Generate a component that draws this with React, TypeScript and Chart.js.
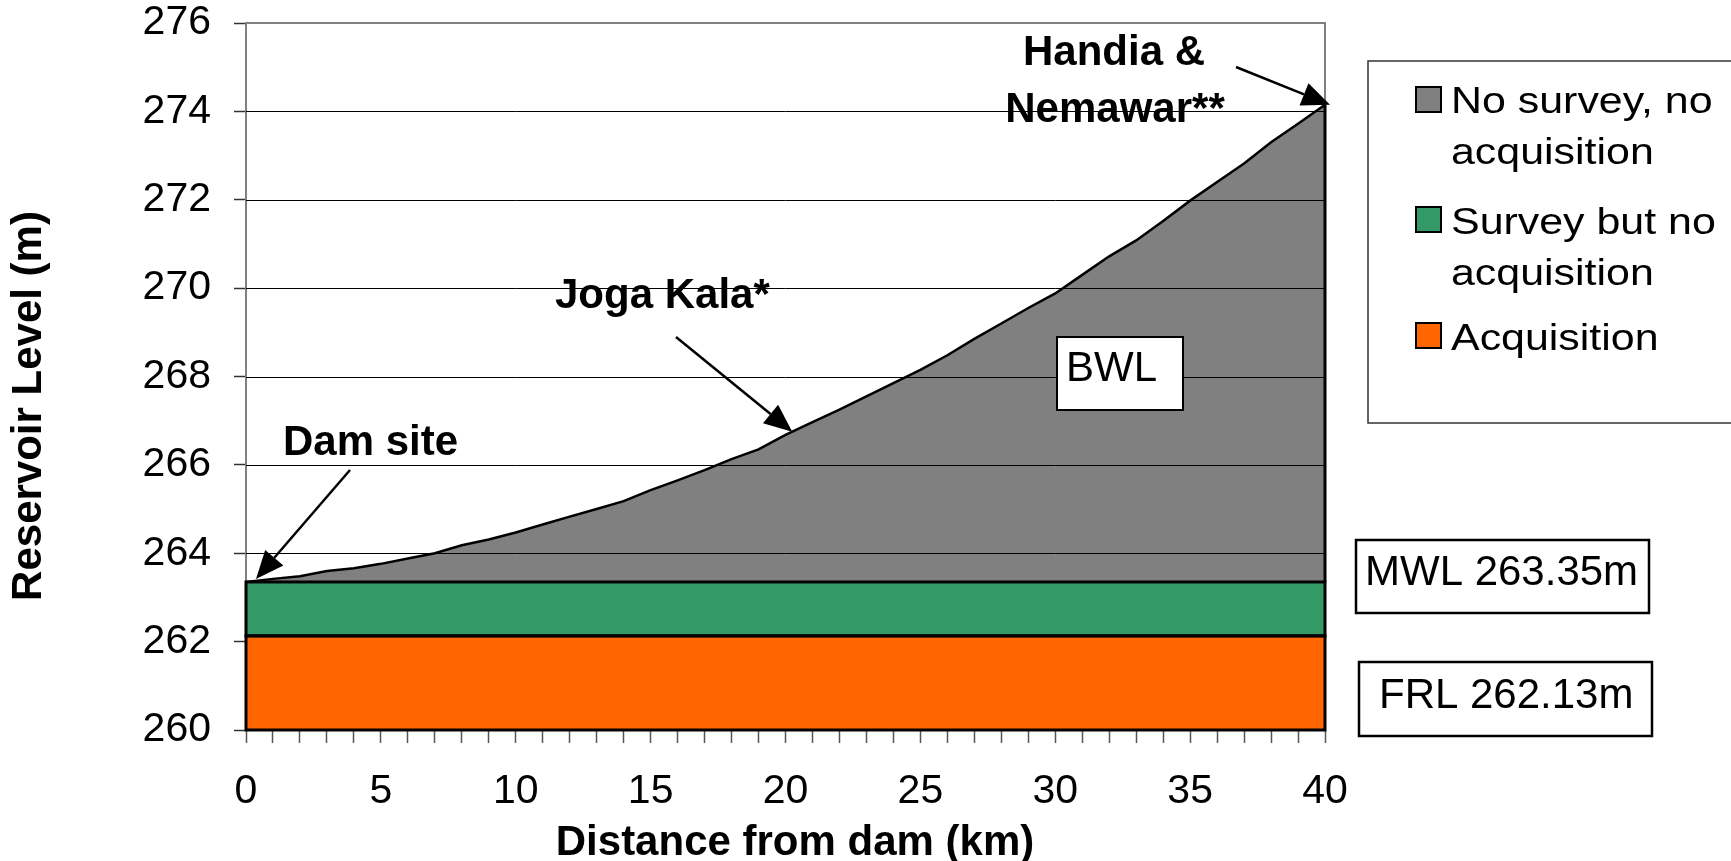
import React, { useEffect, useRef } from "react";
import { Chart, registerables } from "chart.js";

Chart.register(...registerables);

// ---------- data ----------
const distanceKm = [
  0, 1, 2, 3, 4, 5, 6, 7, 8, 9, 10, 11, 12, 13, 14, 15, 16, 17, 18, 19, 20,
  21, 22, 23, 24, 25, 26, 27, 28, 29, 30, 31, 32, 33, 34, 35, 36, 37, 38, 39, 40,
];
const bwlLevel = [
  263.35, 263.42, 263.48, 263.6, 263.66, 263.76, 263.88, 264.0, 264.18, 264.31,
  264.47, 264.65, 264.83, 265.0, 265.18, 265.43, 265.65, 265.88, 266.13, 266.35,
  266.68, 266.97, 267.25, 267.55, 267.85, 268.15, 268.48, 268.85, 269.2, 269.55,
  269.88, 270.3, 270.72, 271.08, 271.52, 271.98, 272.4, 272.82, 273.3, 273.72,
  274.15,
];
const frlLevel = 262.13;
const mwlLevel = 263.35;
const bandEdgesKm = [0, 40];
const yRange = [260, 276];
const yStep = 2;
const xRange = [0, 40];
const xLabelEvery = 5;

const seriesLabels = [
  ["No survey, no", "acquisition"],
  ["Survey but no", "acquisition"],
  ["Acquisition"],
];
const seriesColors = ["#808080", "#339966", "#FF6600"];

const xTitle = "Distance from dam (km)";
const yTitle = "Reservoir Level (m)";
const placeNames = ["Dam site", "Joga Kala*", "Handia &", "Nemawar**"];
const placeKm = [0, 20.25, 40];
const placeLevel = [263.35, 266.75, 274.15];

const FONT = "'Liberation Sans', Arial, Helvetica, sans-serif";

function drawArrow(ctx: CanvasRenderingContext2D, x1: number, y1: number, x2: number, y2: number) {
  const len = 28;
  const hw = 12;
  const ang = Math.atan2(y2 - y1, x2 - x1);
  const bx = x2 - len * Math.cos(ang);
  const by = y2 - len * Math.sin(ang);
  ctx.save();
  ctx.strokeStyle = "#000";
  ctx.fillStyle = "#000";
  ctx.lineWidth = 2.5;
  ctx.beginPath();
  ctx.moveTo(x1, y1);
  ctx.lineTo(bx, by);
  ctx.stroke();
  ctx.beginPath();
  ctx.moveTo(x2, y2);
  ctx.lineTo(bx + hw * Math.sin(ang), by - hw * Math.cos(ang));
  ctx.lineTo(bx - hw * Math.sin(ang), by + hw * Math.cos(ang));
  ctx.closePath();
  ctx.fill();
  ctx.restore();
}

function drawText(
  ctx: CanvasRenderingContext2D,
  text: string,
  x: number,
  y: number,
  font: string,
  align: CanvasTextAlign = "left",
  sx = 1
) {
  ctx.save();
  ctx.font = font;
  ctx.fillStyle = "#000";
  ctx.textAlign = align;
  ctx.textBaseline = "alphabetic";
  ctx.translate(x, y);
  ctx.scale(sx, 1);
  ctx.fillText(text, 0, 0);
  ctx.restore();
}

function boxedText(
  ctx: CanvasRenderingContext2D,
  text: string,
  bx: number,
  by: number,
  bw: number,
  bh: number,
  tx: number,
  ty: number,
  lw: number
) {
  ctx.save();
  ctx.fillStyle = "#fff";
  ctx.fillRect(bx, by, bw, bh);
  ctx.strokeStyle = "#000";
  ctx.lineWidth = lw;
  ctx.strokeRect(bx, by, bw, bh);
  ctx.restore();
  drawText(ctx, text, tx, ty, `42px ${FONT}`);
}

const overlay = {
  id: "overlay",
  beforeDatasetsDraw(chart: any) {
    const { ctx, chartArea: a } = chart;
    ctx.save();
    ctx.strokeStyle = "#808080";
    ctx.lineWidth = 2;
    ctx.beginPath();
    ctx.moveTo(a.left, a.top);
    ctx.lineTo(a.right, a.top);
    ctx.lineTo(a.right, a.bottom);
    ctx.stroke();
    ctx.restore();
  },
  beforeDatasetDraw(chart: any, args: any) {
    if (args.index !== 2) return;
    const { ctx, chartArea: a } = chart;
    const ys = chart.scales.y;
    ctx.save();
    ctx.strokeStyle = "#000";
    ctx.lineWidth = 1;
    ys.ticks.forEach((t: any) => {
      if (t.value >= yRange[1] || t.value <= yRange[0]) return;
      const y = Math.round(ys.getPixelForValue(t.value)) + 0.5;
      ctx.beginPath();
      ctx.moveTo(a.left, y);
      ctx.lineTo(a.right, y);
      ctx.stroke();
    });
    ctx.restore();
  },
  afterDatasetsDraw(chart: any) {
    const { ctx } = chart;
    const xs = chart.scales.x;
    const ys = chart.scales.y;
    const x0 = xs.getPixelForValue(bandEdgesKm[0]);
    const x1 = xs.getPixelForValue(bandEdgesKm[1]);
    const yb = ys.getPixelForValue(yRange[0]);
    const yf = ys.getPixelForValue(frlLevel);
    const ym = ys.getPixelForValue(mwlLevel);
    const ye = ys.getPixelForValue(bwlLevel[bwlLevel.length - 1]);
    ctx.save();
    ctx.strokeStyle = "#000";
    ctx.lineWidth = 3;
    ctx.strokeRect(x0, yf, x1 - x0, yb - yf);
    ctx.strokeRect(x0, ym, x1 - x0, yf - ym);
    ctx.beginPath();
    ctx.moveTo(x1, ym);
    ctx.lineTo(x1, ye);
    ctx.stroke();
    ctx.restore();
  },
  afterDraw(chart: any) {
    const { ctx } = chart;
    const xs = chart.scales.x;
    const ys = chart.scales.y;

    // axis titles
    ctx.save();
    ctx.font = `bold 42px ${FONT}`;
    ctx.fillStyle = "#000";
    ctx.textAlign = "center";
    ctx.textBaseline = "alphabetic";
    ctx.translate(41, 406);
    ctx.rotate(-Math.PI / 2);
    ctx.fillText(yTitle, 0, 0);
    ctx.restore();
    drawText(ctx, xTitle, 795, 855, `bold 42px ${FONT}`, "center");

    // place annotations
    const bold = `bold 42px ${FONT}`;
    drawText(ctx, placeNames[0], 283, 455, bold);
    drawArrow(ctx, 350, 470, xs.getPixelForValue(placeKm[0]) + 10, ys.getPixelForValue(placeLevel[0]) - 3);
    drawText(ctx, placeNames[1], 555, 308, bold);
    drawArrow(ctx, 676, 337, xs.getPixelForValue(placeKm[1]), ys.getPixelForValue(placeLevel[1]));
    drawText(ctx, placeNames[2], 1114, 65, bold, "center");
    drawText(ctx, placeNames[3], 1115, 122, bold, "center");
    drawArrow(ctx, 1236, 67, xs.getPixelForValue(placeKm[2]) + 5, ys.getPixelForValue(placeLevel[2]));

    // level boxes
    boxedText(ctx, "BWL", 1057, 337, 126, 73, 1066, 381, 2);
    boxedText(ctx, `MWL ${mwlLevel}m`, 1356, 540, 293, 73, 1365, 585, 2.5);
    boxedText(ctx, `FRL ${frlLevel}m`, 1359, 662, 293, 74, 1379, 708, 2.5);

    // legend
    ctx.save();
    ctx.fillStyle = "#fff";
    ctx.fillRect(1368, 61, 400, 362);
    ctx.strokeStyle = "#333";
    ctx.lineWidth = 1.5;
    ctx.strokeRect(1368, 61, 400, 362);
    ctx.restore();
    const swatchY = [87, 207, 323];
    const baseY = [113, 234, 350];
    const lineGap = 51;
    seriesLabels.forEach((lines, i) => {
      ctx.save();
      ctx.fillStyle = seriesColors[i];
      ctx.fillRect(1416, swatchY[i], 25, 25);
      ctx.strokeStyle = "#000";
      ctx.lineWidth = 2;
      ctx.strokeRect(1416, swatchY[i], 25, 25);
      ctx.restore();
      lines.forEach((ln, j) => {
        drawText(ctx, ln, 1451, baseY[i] + j * lineGap, `37px ${FONT}`, "left", 1.16);
      });
    });
  },
};

export default function App() {
  const ref = useRef<HTMLCanvasElement>(null);
  useEffect(() => {
    const canvas = ref.current;
    if (!canvas) return;
    const chart = new Chart(canvas, {
      type: "line",
      data: {
        datasets: [
          {
            label: seriesLabels[2].join(" "),
            data: bandEdgesKm.map((x) => ({ x, y: frlLevel })),
            backgroundColor: seriesColors[2],
            borderColor: "#000",
            borderWidth: 0,
            pointRadius: 0,
            fill: "start",
          },
          {
            label: seriesLabels[1].join(" "),
            data: bandEdgesKm.map((x) => ({ x, y: mwlLevel })),
            backgroundColor: seriesColors[1],
            borderColor: "#000",
            borderWidth: 0,
            pointRadius: 0,
            fill: "-1",
          },
          {
            label: seriesLabels[0].join(" "),
            data: distanceKm.map((x, i) => ({ x, y: bwlLevel[i] })),
            backgroundColor: seriesColors[0],
            borderColor: "#000",
            borderWidth: 2.5,
            pointRadius: 0,
            tension: 0,
            fill: "-1",
          },
        ],
      },
      options: {
        animation: false,
        responsive: false,
        devicePixelRatio: 1,
        layout: { padding: { left: 0, right: 406, top: 23, bottom: 0 } },
        plugins: {
          legend: { display: false },
          tooltip: { enabled: false },
          title: { display: false },
        },
        scales: {
          x: {
            type: "linear",
            min: xRange[0],
            max: xRange[1],
            afterFit: (s: any) => {
              s.height = 131;
              s.paddingLeft = 0;
              s.paddingRight = 0;
            },
            ticks: {
              stepSize: 1,
              autoSkip: false,
              maxRotation: 0,
              maxTicksLimit: 100,
              padding: 24,
              color: "#000",
              font: { family: FONT, size: 41 },
              callback: (v: any) => (Number(v) % xLabelEvery === 0 ? String(v) : ""),
            },
            grid: {
              drawOnChartArea: false,
              drawTicks: true,
              tickLength: 13,
              tickColor: "#555",
              tickWidth: 1.5,
            },
            border: { display: true, color: "#000", width: 2 },
          },
          y: {
            type: "linear",
            min: yRange[0],
            max: yRange[1],
            afterFit: (s: any) => {
              s.width = 246;
              s.paddingTop = 0;
              s.paddingBottom = 0;
            },
            ticks: {
              stepSize: yStep,
              padding: 23,
              color: "#000",
              font: { family: FONT, size: 41 },
            },
            grid: {
              drawOnChartArea: false,
              drawTicks: true,
              tickLength: 12,
              tickColor: "#333",
              tickWidth: 1.5,
            },
            border: { display: true, color: "#808080", width: 2 },
          },
        },
      },
      plugins: [overlay],
    } as any);
    return () => chart.destroy();
  }, []);
  return (
    <div style={{ position: "fixed", left: 0, top: 0, width: 1731, height: 861, background: "#fff" }}>
      <canvas ref={ref} width={1731} height={861} style={{ display: "block", width: 1731, height: 861 }} />
    </div>
  );
}
